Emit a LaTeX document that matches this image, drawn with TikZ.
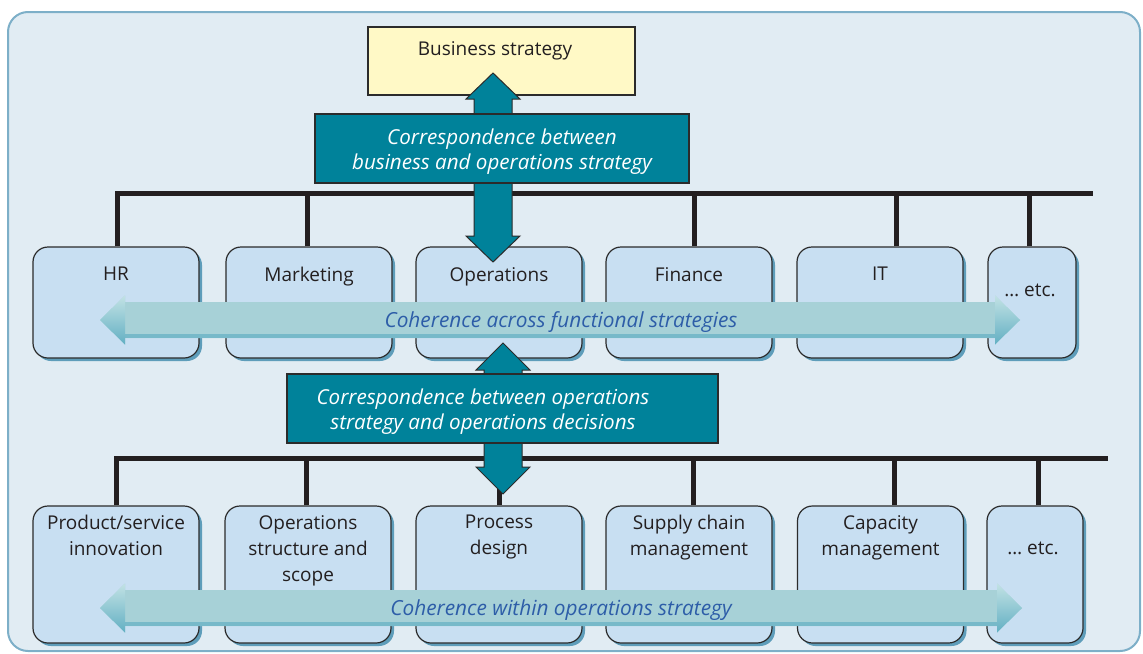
\documentclass[tikz,border=0pt]{standalone}
\usepackage{fontspec}
\setmainfont{Open Sans}
\usetikzlibrary{shadows}
\definecolor{framefill}{HTML}{E1ECF3}
\definecolor{frameline}{HTML}{7DAFC8}
\definecolor{boxfill}{HTML}{C8DFF2}
\definecolor{boxline}{HTML}{2B2B2B}
\definecolor{shadowblue}{HTML}{5E9DBA}
\definecolor{darktext}{HTML}{231F20}
\definecolor{teal}{HTML}{00829A}
\definecolor{paleyellow}{HTML}{FFF9C6}
\definecolor{coharrow}{HTML}{A7D1D7}
\definecolor{cohdark}{HTML}{62AFC3}
\definecolor{cohlight}{HTML}{C2E2E4}
\definecolor{cohtext}{HTML}{2D5DA8}

\begin{document}
\begin{tikzpicture}[x=0.5pt, y=-0.5pt,
    every node/.style={font=\fontsize{9.5}{13}\selectfont, text=darktext, inner sep=0pt},
    fbox/.style={draw=boxline, line width=0.6pt, fill=boxfill, rounded corners=7.5pt,
        minimum width=83pt, drop shadow={shadow xshift=1.5pt, shadow yshift=-1.5pt, fill=shadowblue, opacity=1}},
    ftext/.style={anchor=north, align=center},
    corrbox/.style={draw=boxline, line width=0.6pt, fill=teal, minimum height=34.5pt},
    corrtext/.style={text=white, align=center, font=\fontsize{10.3}{12.5}\selectfont\itshape},
    bar/.style={line width=2.5pt, draw=darktext},
    tealarrow/.style={fill=teal, draw=boxline, line width=0.5pt},
    cohlabel/.style={text=cohtext, font=\fontsize{10.4}{12}\selectfont\itshape}
]
\useasboundingbox (0,0) rectangle (1143,653);
\draw[frameline, line width=1pt, fill=framefill, rounded corners=10pt] (8,12) rectangle (1140,651);

% top box
\node[draw=boxline, line width=0.6pt, fill=paleyellow, minimum width=133.5pt, minimum height=34pt] (bs) at (501.5,61) {};
\node[ftext] (bs-t) at (495,41) {Business strategy};

% functional strategies
\foreach \name/\x/\txt in {hr/116/HR, mkt/309/Marketing, ops/499/Operations, fin/689/Finance, it/880/IT} {
    \node[fbox, minimum height=55.5pt] (\name) at (\x,302.5) {};
    \node[ftext] (\name-t) at (\x,267) {\txt};
}
\node[fbox, minimum width=44pt, minimum height=55.5pt] (etc1) at (1032,302.5) {};
\node (etc1-t) at (1030,290) {\dots\ etc.};

% operations decisions
\foreach \name/\x/\txt in {prod/116/{Product/service\\innovation}, osc/308/{Operations\\structure and\\scope},
    proc/499/{Process\\design}, scm/689/{Supply chain\\management}, cap/880.5/{Capacity\\management}} {
    \node[fbox, minimum height=68.5pt] (\name) at (\x,574.5) {};
    \node[ftext] (\name-t) at (\x,515) {\txt};
}
\node[fbox, minimum width=48pt, minimum height=68.5pt] (etc2) at (1035,574.5) {};
\node (etc2-t) at (1033,548) {\dots\ etc.};

% connecting bars
\coordinate (bar1) at (1093,193);
\coordinate (bar2) at (1108,458);
\draw[bar] ([xshift=0.5pt]hr.north) |- (bar1);
\foreach \n/\dx in {mkt/-1pt, ops/0pt, fin/2.5pt, it/8pt, etc1/-1.5pt}
    \draw[bar] ([xshift=\dx]\n.north) -- ([xshift=\dx]\n.north |- bar1);
\draw[bar] (prod.north) |- (bar2);
\foreach \n/\dx in {osc/-1pt, proc/0pt, scm/2pt, cap/6.75pt, etc2/1.5pt}
    \draw[bar] ([xshift=\dx]\n.north) -- ([xshift=\dx]\n.north |- bar2);

% correspondence arrows
\coordinate (a1t) at (493,73);
\coordinate (a1b) at (493,262);
\draw[tealarrow] (a1t) -- ++(27,26) -- ++(-8,0) -- ++(0,137) -- ++(8,0) -- (a1b)
    -- ++(-27,-26) -- ++(8,0) -- ++(0,-137) -- ++(-8,0) -- cycle;
\coordinate (a2t) at (503,343);
\coordinate (a2b) at (503,494);
\draw[tealarrow] (a2t) -- ++(27,27) -- ++(-8,0) -- ++(0,97) -- ++(8,0) -- (a2b)
    -- ++(-27,-27) -- ++(8,0) -- ++(0,-97) -- ++(-8,0) -- cycle;

\node[corrbox, minimum width=187pt] (corr1) at (502,148.5) {};
\node[corrtext] (corr1-t) at (502,152) {Correspondence between\\business and operations strategy};
\node[corrbox, minimum width=215.5pt] (corr2) at (502.5,408.5) {};
\node[corrtext] (corr2-t) at (483,412) {Correspondence between operations\\strategy and operations decisions};

% coherence arrows
\foreach \y/\len in {320/870, 608/872} {
    \coordinate (cl) at (100,\y);
    \fill[coharrow] (cl) -- ++(25,-24.5) -- ++(0,6.5) -- ++(\len,0) -- ++(0,-6.5) -- ++(25,24.5)
        -- ++(-25,24.5) -- ++(0,-6.5) -- ++(-\len,0) -- ++(0,6.5) -- cycle;
    \fill[cohdark!70!coharrow] (125,\y+14) rectangle ++(\len,4);
    \shade[top color=cohlight, bottom color=cohdark] (cl) -- ++(25,-24.5) -- ++(0,49) -- cycle;
    \shade[top color=cohlight, bottom color=cohdark] (125+\len,\y-24.5) -- ++(25,24.5) -- ++(-25,24.5) -- cycle;
}
\node[cohlabel] (coh1) at (561,322) {Coherence across functional strategies};
\node[cohlabel] (coh2) at (561,610) {Coherence within operations strategy};
\end{tikzpicture}
\end{document}
